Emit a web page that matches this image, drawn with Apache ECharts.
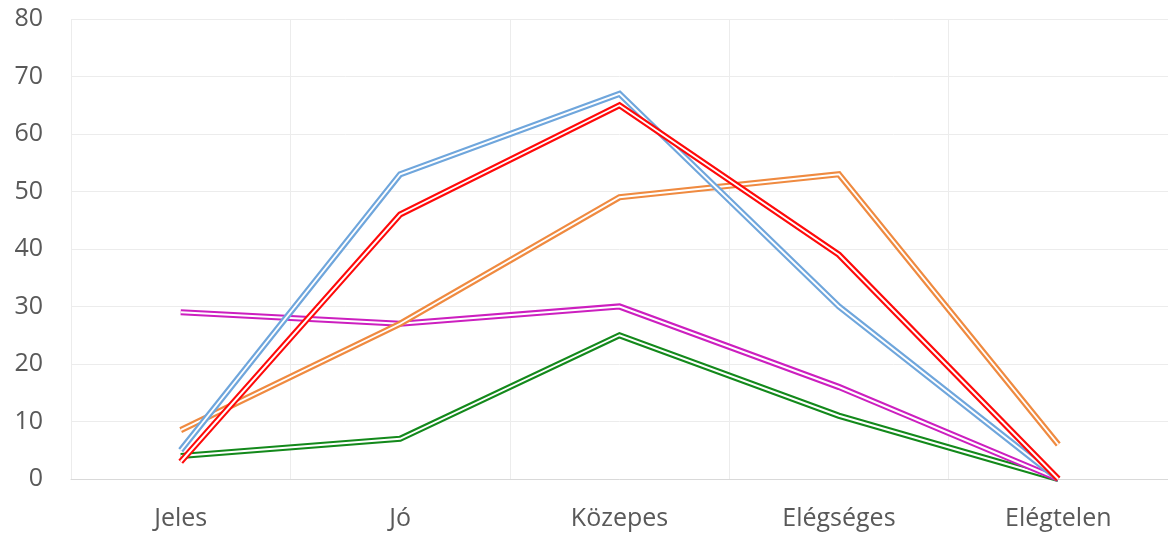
<!DOCTYPE html>
<html>
<head>
<meta charset="utf-8">
<script src="https://cdn.jsdelivr.net/npm/echarts@6/dist/echarts.min.js"></script>
<style>
  html, body { margin: 0; padding: 0; background: #fff; }
</style>
</head>
<body>
<div id="echart" style="width: 1168px; height: 541px;"></div>
<script>
// categories and values
var categories = ['Jeles', 'Jó', 'Közepes', 'Elégséges', 'Elégtelen'];
var blueValues = [5, 53, 67, 30, 0];
var orangeValues = [8.5, 27, 49, 53, 6];
var magentaValues = [29, 27, 30, 16, 0];
var greenValues = [4, 7, 25, 11, 0];
var redValues = [3, 46, 65, 39, 0];

var lines = [
    { data: greenValues, color: '#13891b' },
    { data: magentaValues, color: '#cc1fbf' },
    { data: orangeValues, color: '#ef8a40' },
    { data: blueValues, color: '#6fa6dc' },
    { data: redValues, color: '#ff0a0a' }
];

// each line is a thick coloured stroke with a thin white one on top,
// which gives the double-line look of the original
var series = [];
lines.forEach(function (l) {
    series.push({
        type: 'line',
        data: l.data,
        symbol: 'none',
        silent: true,
        lineStyle: { color: l.color, width: 6.2, join: 'miter' }
    });
    series.push({
        type: 'line',
        data: l.data,
        symbol: 'none',
        silent: true,
        lineStyle: { color: '#ffffff', width: 1.9, join: 'miter' }
    });
});

var myChart = echarts.init(document.getElementById('echart'));
var option = {
    animation: false,
    textStyle: { fontFamily: 'Open Sans' },
    grid: { left: 71, top: 19, width: 1103, height: 460 },
    xAxis: {
        type: 'category',
        data: categories,
        boundaryGap: true,
        axisLine: { show: true, lineStyle: { color: '#d9d9d9', width: 1 } },
        axisTick: { show: false },
        splitLine: { show: true, lineStyle: { color: '#ececec', width: 1 } },
        axisLabel: { color: '#595959', fontSize: 25, margin: 27 }
    },
    yAxis: {
        type: 'value',
        min: 0,
        max: 80,
        interval: 10,
        axisLine: { show: false },
        axisTick: { show: false },
        splitLine: { lineStyle: { color: '#ececec', width: 1 } },
        axisLabel: { color: '#595959', fontSize: 25, margin: 28 }
    },
    series: series
};
myChart.setOption(option);
window.addEventListener('resize', () => {
    myChart.resize();
});
</script>
</body>
</html>
